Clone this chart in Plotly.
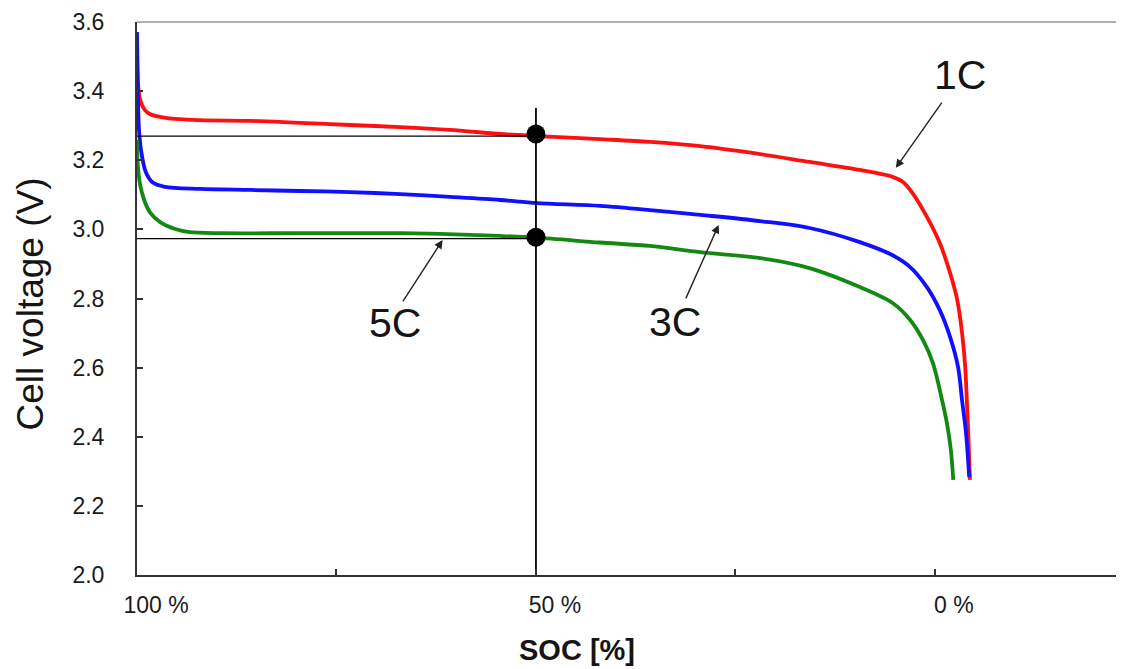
import plotly.graph_objects as go

# ---- data ----
soc_1c = [100, 99.9, 99.6, 99.0, 98.4, 96.2, 92.1, 85.8, 79.6, 73.3, 67.0, 60.8, 54.5, 49.9,
          42.0, 35.7, 29.4, 21.9, 15.7, 9.4, 5.3, 4.0, 2.8, 1.0, -0.6, -1.9, -2.8, -3.4,
          -3.8, -4.0, -4.2, -4.3, -4.4]
v_1c = [3.525, 3.432, 3.374, 3.345, 3.334, 3.322, 3.316, 3.314, 3.308, 3.302, 3.296, 3.288,
        3.276, 3.270, 3.261, 3.253, 3.241, 3.218, 3.195, 3.172, 3.152, 3.137, 3.105, 3.036,
        2.961, 2.874, 2.796, 2.701, 2.602, 2.506, 2.400, 2.333, 2.275]

soc_3c = [100, 99.9, 99.75, 99.4, 98.9, 98.1, 96.5, 92.1, 85.8, 79.6, 73.3, 67.0, 60.8, 54.5,
          49.9, 42.0, 35.7, 29.4, 21.9, 15.7, 9.4, 5.3, 3.1, 1.0, -0.6, -1.9, -2.9, -3.4,
          -3.9, -4.3]
v_3c = [3.571, 3.403, 3.288, 3.215, 3.166, 3.137, 3.123, 3.117, 3.114, 3.111, 3.108, 3.102,
        3.094, 3.085, 3.076, 3.068, 3.056, 3.042, 3.024, 3.004, 2.963, 2.925, 2.891, 2.833,
        2.767, 2.689, 2.602, 2.506, 2.411, 2.283]

soc_5c = [100, 99.9, 99.6, 99.1, 98.4, 97.1, 95.2, 93.4, 89.6, 79.6, 67.0, 62.0, 54.5, 49.9,
          42.0, 35.7, 29.4, 21.9, 15.7, 9.4, 5.3, 3.1, 1.5, 0.25, -0.9, -1.5, -2.0, -2.3]
v_5c = [3.259, 3.186, 3.128, 3.085, 3.050, 3.021, 3.001, 2.992, 2.989, 2.989, 2.989, 2.987,
        2.981, 2.976, 2.962, 2.952, 2.934, 2.917, 2.888, 2.833, 2.787, 2.738, 2.680, 2.613,
        2.506, 2.440, 2.362, 2.275]

# reference guide lines and marked points at 50 % SOC
guide_soc = [100, 50]
guide_v_1c = [3.270, 3.270]
guide_v_5c = [2.973, 2.973]
vert_soc = [50, 50]
vert_v = [2.0, 3.351]
dot_soc = [50, 50]
dot_v = [3.276, 2.977]

# labels with their arrows
rate_labels = ["1C", "3C", "5C"]
label_pos = [(-3.1, 3.447), (32.6, 2.732), (67.7, 2.729)]
arrow_tail = [(-1.0, 3.371), (31.3, 2.796), (66.8, 2.787)]
arrow_head = [(4.9, 3.178), (27.1, 3.013), (61.7, 2.969)]

y_ticks = [2.0, 2.2, 2.4, 2.6, 2.8, 3.0, 3.2, 3.4, 3.6]
x_ticks = [100, 75, 50, 25, 0]
x_ticktext = ["100 %", "", "50 %", "", "0 %"]

FONT = "Liberation Sans, Arial, sans-serif"

fig = go.Figure()
for xs, ys, col in [(soc_1c, v_1c, "#ff1010"), (soc_3c, v_3c, "#1010ff"), (soc_5c, v_5c, "#128a12")]:
    fig.add_trace(go.Scatter(x=xs, y=ys, mode="lines",
                             line=dict(color=col, width=3.8, shape="spline", smoothing=0.9),
                             showlegend=False))

fig.add_trace(go.Scatter(x=guide_soc, y=guide_v_1c, mode="lines", line=dict(color="black", width=1.3),
                         showlegend=False))
fig.add_trace(go.Scatter(x=guide_soc, y=guide_v_5c, mode="lines", line=dict(color="black", width=1.3),
                         showlegend=False))
fig.add_trace(go.Scatter(x=vert_soc, y=vert_v, mode="lines", line=dict(color="black", width=1.8),
                         showlegend=False))
fig.add_trace(go.Scatter(x=dot_soc, y=dot_v, mode="markers", marker=dict(color="black", size=19),
                         showlegend=False))

for t, (tx, ty), (ax, ay), (hx, hy) in zip(rate_labels, label_pos, arrow_tail, arrow_head):
    fig.add_annotation(x=tx, y=ty, text=t, showarrow=False, xref="x", yref="y",
                       font=dict(family=FONT, size=41, color="#151515"))
    fig.add_annotation(x=hx, y=hy, ax=ax, ay=ay, axref="x", ayref="y", xref="x", yref="y",
                       text="", showarrow=True, arrowhead=2, arrowsize=1.2, arrowwidth=1.4,
                       arrowcolor="#222222")

fig.add_annotation(x=-0.108, y=0.49, xref="paper", yref="paper", text="Cell voltage (V)",
                   textangle=-90, showarrow=False, xanchor="center", yanchor="middle",
                   font=dict(family=FONT, size=37, color="#151515"))
fig.add_annotation(x=0.446, y=-0.136, xref="paper", yref="paper", text="<b>SOC [%]</b>",
                   showarrow=False, xanchor="center", yanchor="middle",
                   font=dict(family=FONT, size=29, color="#151515"))

fig.add_shape(type="line", xref="paper", yref="paper", x0=0, x1=1, y0=1, y1=1,
              line=dict(color="#b0b0b0", width=2))

fig.update_xaxes(range=[100, -23.7], tickvals=x_ticks, ticktext=x_ticktext, ticks="inside",
                 ticklen=6, tickwidth=1.5, tickcolor="#333", showline=True, linecolor="#333",
                 linewidth=2, showgrid=False, zeroline=False, ticklabelshift=-19,
                 ticklabelstandoff=8, tickfont=dict(family=FONT, size=23, color="#1a1a1a"))
fig.update_yaxes(range=[2.0, 3.6], tickvals=y_ticks, tickformat=".1f", ticks="inside",
                 ticklen=6, tickwidth=1.5, tickcolor="#333", showline=True, linecolor="#333",
                 linewidth=2, showgrid=False, zeroline=False, ticklabelstandoff=26,
                 tickfont=dict(family=FONT, size=23, color="#1a1a1a"))

# the page body adds an 8 px offset, so the figure is sized to end at the window edge
fig.update_layout(width=1116, height=661, margin=dict(l=129, r=0, t=14, b=94),
                  plot_bgcolor="white", paper_bgcolor="white", showlegend=False)

fig.write_html("out.html")
